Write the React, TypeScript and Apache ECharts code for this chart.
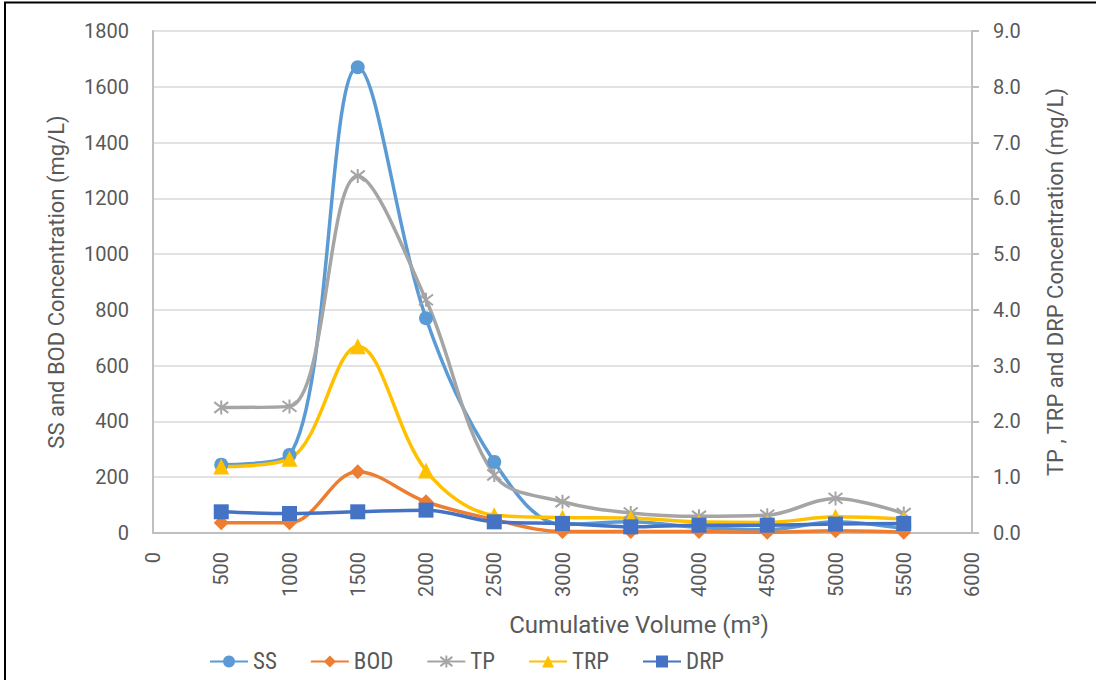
import React, { useEffect, useRef } from "react";
import * as echarts from "echarts";

// Sampling points along the cumulative runoff volume (m³)
const volumes = [500, 1000, 1500, 2000, 2500, 3000, 3500, 4000, 4500, 5000, 5500];

// Left axis (mg/L)
const ssValues = [245, 280, 1670, 770, 255, 30, 40, 20, 12, 40, 15];
const bodValues = [37, 37, 220, 112, 48, 5, 5, 5, 3, 8, 3];

// Right axis (mg/L)
const tpValues = [2.25, 2.27, 6.4, 4.18, 1.04, 0.56, 0.36, 0.3, 0.32, 0.62, 0.35];
const trpValues = [1.19, 1.33, 3.35, 1.12, 0.32, 0.28, 0.27, 0.2, 0.19, 0.29, 0.25];
const drpValues = [0.38, 0.35, 0.38, 0.41, 0.2, 0.17, 0.11, 0.14, 0.14, 0.16, 0.17];

const seriesNames = ["SS", "BOD", "TP", "TRP", "DRP"];
const seriesColors = ["#5B9BD5", "#ED7D31", "#A5A5A5", "#FFC000", "#4472C4"];

const FONT = "Roboto, 'Noto Sans', sans-serif";
const TEXT = "#595959";

const pair = (vals: number[]) => volumes.map((v, i) => [v, vals[i]]);

export default function App() {
  const ref = useRef<HTMLDivElement>(null);

  useEffect(() => {
    if (!ref.current) return;
    const chart = echarts.init(ref.current, null, { renderer: "svg" });

    const lineBase = (idx: number, vals: number[], yAxisIndex: number, symbol: string, symbolSize: number, extraItem: any = {}) => ({
      name: seriesNames[idx],
      type: "line",
      yAxisIndex,
      data: pair(vals),
      smooth: 0.35,
      symbol,
      symbolSize,
      showAllSymbol: true,
      color: seriesColors[idx],
      lineStyle: { color: seriesColors[idx], width: 3.5 },
      itemStyle: { color: seriesColors[idx], ...extraItem },
      emphasis: { disabled: true },
    });

    chart.setOption({
      animation: false,
      backgroundColor: "#ffffff",
      textStyle: { fontFamily: FONT },
      grid: { left: 153, right: 124, top: 31, bottom: 147, containLabel: false },
      legend: {
        left: 204,
        top: 645,
        itemWidth: 38,
        itemHeight: 15,
        itemGap: 33,
        data: seriesNames,
        textStyle: {
          fontFamily: "'Roboto Condensed', 'Liberation Sans Narrow', 'DejaVu Sans Condensed', sans-serif",
          fontSize: 23,
          color: TEXT,
        },
      },
      xAxis: {
        type: "value",
        min: 0,
        max: 6000,
        interval: 500,
        axisLine: { show: true, lineStyle: { color: "#BFBFBF", width: 2 } },
        axisTick: { show: false },
        splitLine: { show: false },
        axisLabel: {
          rotate: 90,
          margin: 19,
          fontSize: 20,
          color: TEXT,
          fontFamily: FONT,
          formatter: (v: number) => String(v),
        },
      },
      yAxis: [
        {
          type: "value",
          min: 0,
          max: 1800,
          interval: 200,
          position: "left",
          name: "SS and BOD Concentration (mg/L)",
          nameLocation: "middle",
          nameGap: 86,
          nameTextStyle: { fontSize: 22, color: TEXT, fontFamily: FONT },
          axisLine: { show: true, lineStyle: { color: "#BFBFBF", width: 2 } },
          axisTick: { show: false },
          splitLine: { show: true, lineStyle: { color: "#D9D9D9", width: 1.5 } },
          axisLabel: {
            margin: 24,
            fontSize: 20,
            color: TEXT,
            fontFamily: FONT,
            formatter: (v: number) => String(v),
          },
        },
        {
          type: "value",
          min: 0,
          max: 9,
          interval: 1,
          position: "right",
          name: "TP , TRP and DRP Concentration (mg/L)",
          nameLocation: "middle",
          nameGap: 72,
          nameTextStyle: { fontSize: 22, color: TEXT, fontFamily: FONT },
          axisLine: { show: true, lineStyle: { color: "#BFBFBF", width: 2 } },
          axisTick: { show: true, length: 7, lineStyle: { color: "#BFBFBF", width: 2 } },
          splitLine: { show: false },
          axisLabel: {
            margin: 21,
            fontSize: 20,
            color: TEXT,
            fontFamily: FONT,
            formatter: (v: number) => v.toFixed(1),
          },
        },
      ],
      graphic: [
        {
          type: "rect",
          shape: { x: 5, y: 2.5, width: 1200, height: 800 },
          style: { fill: "none", stroke: "#000000", lineWidth: 2 },
          silent: true,
        },
        {
          type: "text",
          x: 639,
          y: 625,
          style: {
            text: "Cumulative Volume (m³)",
            fontSize: 24,
            fontFamily: FONT,
            fill: TEXT,
            align: "center",
            verticalAlign: "middle",
          },
        },
      ],
      series: [
        lineBase(0, ssValues, 0, "circle", 14),
        lineBase(1, bodValues, 0, "diamond", 15),
        lineBase(2, tpValues, 1, "path://M0,0L10,10M10,0L0,10M5,-1.5L5,11.5", 14, {
          borderColor: seriesColors[2],
          borderWidth: 2,
        }),
        lineBase(3, trpValues, 1, "triangle", 16),
        lineBase(4, drpValues, 1, "rect", 15),
      ],
    });

    return () => chart.dispose();
  }, []);

  return (
    <div style={{ position: "fixed", left: 0, top: 0, width: 1096, height: 680, background: "#fff" }}>
      <div ref={ref} style={{ width: 1096, height: 680 }} />
    </div>
  );
}
